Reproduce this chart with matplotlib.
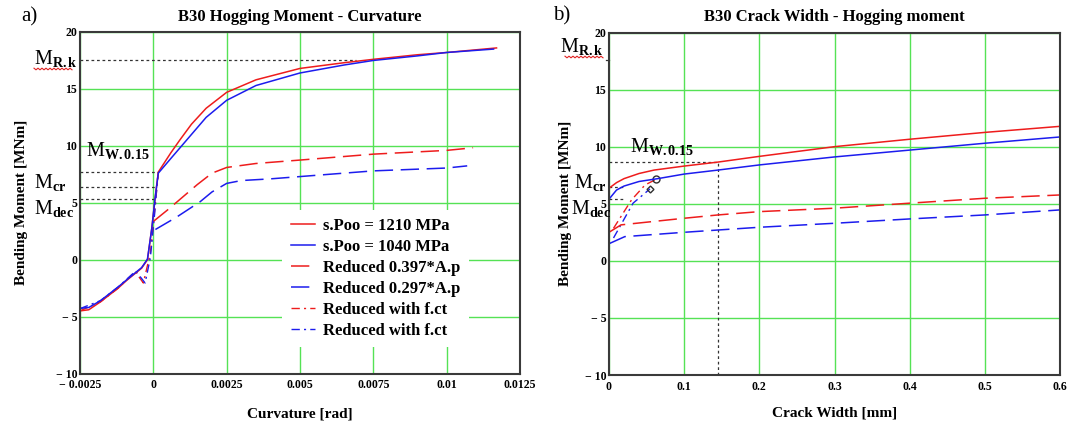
import numpy as np
import matplotlib
matplotlib.use("Agg")
import matplotlib.pyplot as plt
from matplotlib.lines import Line2D

plt.rcParams['font.family'] = 'Liberation Serif'
plt.rcParams['mathtext.fontset'] = 'custom'
plt.rcParams['mathtext.rm'] = 'Liberation Serif'
plt.rcParams['mathtext.it'] = 'Liberation Serif:italic'
plt.rcParams['mathtext.bf'] = 'Liberation Serif:bold'

# ---- a) hogging moment vs curvature ----
curv_full_1210 = [-0.0025, -0.0022, -0.0018, -0.0012, -0.0009, -0.0004, -0.0002, -0.00005, 0.00006, 0.00017,
                  0.0006, 0.0009, 0.0013, 0.0018, 0.0025, 0.0035, 0.005, 0.0065, 0.0075, 0.009, 0.01, 0.0117]
mom_full_1210 = [-4.5, -4.4, -3.7, -2.5, -1.8, -0.75, 0.0, 2.8, 5.4, 7.7,
                 9.4, 10.5, 11.9, 13.3, 14.7, 15.8, 16.8, 17.3, 17.6, 18.0, 18.2, 18.6]

curv_full_1040 = [-0.0025, -0.0024, -0.0022, -0.0018, -0.0012, -0.0009, -0.0004, -0.0002, -0.00005, 0.00006, 0.00017,
                  0.0006, 0.0011, 0.0018, 0.0025, 0.0035, 0.005, 0.0065, 0.0075, 0.009, 0.01, 0.0116]
mom_full_1040 = [-4.3, -4.25, -4.2, -3.6, -2.4, -1.75, -0.7, 0.05, 2.8, 5.4, 7.6,
                 8.9, 10.4, 12.5, 14.0, 15.3, 16.4, 17.1, 17.5, 17.9, 18.2, 18.5]

curv_red_0397 = [0.00002, 0.0005, 0.001, 0.0015, 0.002, 0.0025, 0.0035, 0.005, 0.0075, 0.01, 0.0109]
mom_red_0397 = [3.4, 4.4, 5.5, 6.6, 7.6, 8.1, 8.45, 8.75, 9.27, 9.6, 9.83]

curv_red_0297 = [0.00007, 0.0008, 0.0016, 0.002, 0.0025, 0.003, 0.004, 0.005, 0.0075, 0.01, 0.0107]
mom_red_0297 = [2.65, 3.75, 5.1, 5.95, 6.7, 6.95, 7.1, 7.3, 7.8, 8.05, 8.24]

curv_fct_a = [-0.0025, -0.0018, -0.0012, -0.00062, -0.00034, -0.0001, 0.00005, 0.00017]
mom_fct_a = [-4.5, -3.7, -2.5, -1.05, -2.05, 0.6, 4.5, 7.6]
curv_fct_b = [-0.0025, -0.0018, -0.0012, -0.0006, -0.00028, -0.0001, 0.00005, 0.00015]
mom_fct_b = [-4.3, -3.6, -2.4, -1.0, -2.05, 0.2, 4.2, 7.3]

M_Rk_a = 17.5
M_w015_a = 7.72
M_cr_a = 6.4
M_dec_a = 5.32

# ---- b) crack width vs hogging moment ----
w_full_1210 = [0.0, 0.01, 0.02, 0.04, 0.06, 0.1, 0.145, 0.2, 0.3, 0.4, 0.5, 0.6]
mw_full_1210 = [6.36, 6.85, 7.2, 7.65, 7.95, 8.3, 8.65, 9.15, 10.0, 10.65, 11.25, 11.78]
w_full_1040 = [0.0, 0.01, 0.02, 0.04, 0.065, 0.1, 0.145, 0.2, 0.3, 0.4, 0.5, 0.6]
mw_full_1040 = [5.4, 6.2, 6.55, 6.95, 7.2, 7.6, 7.95, 8.4, 9.1, 9.7, 10.3, 10.85]
w_red_0397 = [0.0, 0.016, 0.1, 0.145, 0.2, 0.3, 0.4, 0.5, 0.6]
mw_red_0397 = [2.5, 3.15, 3.73, 4.02, 4.31, 4.61, 5.05, 5.48, 5.77]
w_red_0297 = [0.0, 0.021, 0.1, 0.145, 0.2, 0.3, 0.4, 0.5, 0.6]
mw_red_0297 = [1.5, 2.12, 2.5, 2.7, 2.94, 3.29, 3.67, 4.02, 4.46]
w_fct_a = [0.006, 0.03, 0.048, 0.063]
mw_fct_a = [2.85, 5.34, 6.65, 7.15]
w_fct_b = [0.006, 0.032, 0.0545]
mw_fct_b = [2.0, 5.05, 6.3]

w_limit = 0.1454
M_w015_b = 8.64
M_cr_b = 6.45
M_dec_b = 5.4
M_Rk_b = 17.6

labels = ['s.Poo = 1210 MPa', 's.Poo = 1040 MPa', 'Reduced 0.397*A.p',
          'Reduced 0.297*A.p', 'Reduced with f.ct', 'Reduced with f.ct']
xticks_a = [-0.0025, 0, 0.0025, 0.005, 0.0075, 0.01, 0.0125]
xlabels_a = ['\u2212 0.0025', '0', '0.0025', '0.005', '0.0075', '0.01', '0.0125']
xticks_b = [0, 0.1, 0.2, 0.3, 0.4, 0.5, 0.6]
xlabels_b = ['0', '0.1', '0.2', '0.3', '0.4', '0.5', '0.6']
yticks = [-10, -5, 0, 5, 10, 15, 20]
ylabels = ['\u2212 10', '\u2212 5', '0', '5', '10', '15', '20']

RED = '#ee1c1c'
BLUE = '#1c1cee'
GREEN = '#55e255'
DASH = (0, (12, 5))
DASHDOT = (0, (6, 3, 1.5, 3))
DOT = (0, (2.2, 2.2))

W, H = 1071, 425
fig = plt.figure(figsize=(W / 100, H / 100), dpi=100)
ax1 = fig.add_axes([80 / W, 1 - 373.5 / H, 440 / W, 341.5 / H])
ax2 = fig.add_axes([609 / W, 1 - 375 / H, 451 / W, 342.5 / H])


def style_axes(ax, xt, xl, xlim, ypad):
    ax.set_xlim(*xlim)
    ax.set_ylim(-10, 20)
    ax.set_xticks(xt)
    ax.set_xticklabels(xl)
    ax.set_yticks(yticks)
    ax.set_yticklabels(ylabels)
    ax.tick_params(length=0, labelsize=8.5, pad=4)
    ax.tick_params(axis='y', pad=2)
    for t in ax.get_xticklabels() + ax.get_yticklabels():
        t.set_fontweight('bold')
    ax.grid(True, color=GREEN, lw=1.0)
    ax.set_axisbelow(True)
    for s in ax.spines.values():
        s.set_color('#3a3a3a')
        s.set_linewidth(1.5)
    ax.set_ylabel('Bending Moment [MNm]', fontsize=11, fontweight='bold', labelpad=ypad)


style_axes(ax1, xticks_a, xlabels_a, (-0.0025, 0.0125), 20)
style_axes(ax2, xticks_b, xlabels_b, (0, 0.6), 9)

# dotted reference levels
ax1.plot([-0.0025, 0.0069], [M_Rk_a, M_Rk_a], color='#333333', lw=0.9, ls=DOT)
ax1.plot([-0.0025, 0.00017], [M_w015_a, M_w015_a], color='#333333', lw=0.9, ls=DOT)
ax1.plot([-0.0025, 0.00006], [M_cr_a, M_cr_a], color='#333333', lw=0.9, ls=DOT)
ax1.plot([-0.0025, 0.00002], [M_dec_a, M_dec_a], color='#333333', lw=0.9, ls=DOT)

ax1.plot(curv_fct_a, mom_fct_a, color=RED, lw=1.0, ls=DASHDOT, label=labels[4])
ax1.plot(curv_fct_b, mom_fct_b, color=BLUE, lw=1.0, ls=DASHDOT, label=labels[5])
h1, = ax1.plot(curv_full_1210, mom_full_1210, color=RED, lw=1.1, label=labels[0])
h2, = ax1.plot(curv_full_1040, mom_full_1040, color=BLUE, lw=1.1, label=labels[1])
h3, = ax1.plot(curv_red_0397, mom_red_0397, color=RED, lw=1.1, ls=DASH, label=labels[2])
h4, = ax1.plot(curv_red_0297, mom_red_0297, color=BLUE, lw=1.1, ls=DASH, label=labels[3])
h5 = Line2D([], [], color=RED, lw=1.0, ls=DASHDOT)
h6 = Line2D([], [], color=BLUE, lw=1.0, ls=DASHDOT)

leg = ax1.legend([h1, h2, h3, h4, h5, h6], labels, loc='upper left',
                 bbox_to_anchor=(0.46, 0.48), borderaxespad=0, borderpad=0.5,
                 handlelength=1.45, handletextpad=0.5, labelspacing=0.3,
                 frameon=True, fancybox=False, framealpha=1,
                 prop={'family': 'Liberation Serif', 'weight': 'bold', 'size': 12})
leg.get_frame().set_edgecolor('none')

ax2.plot([0, w_limit], [M_w015_b, M_w015_b], color='#333333', lw=0.9, ls=DOT)
ax2.plot([w_limit, w_limit], [-10, M_w015_b], color='#333333', lw=0.9, ls=DOT)
ax2.plot([0, 0.02], [M_cr_b, M_cr_b], color='#333333', lw=0.9, ls=DOT)
ax2.plot([0, 0.02], [M_dec_b, M_dec_b], color='#333333', lw=0.9, ls=DOT)
ax2.plot([-0.004, 0.0], [M_Rk_b, M_Rk_b], color='#333333', lw=0.9, clip_on=False)

ax2.plot(w_fct_a, mw_fct_a, color=RED, lw=1.0, ls=DASHDOT)
ax2.plot(w_fct_b, mw_fct_b, color=BLUE, lw=1.0, ls=DASHDOT)
ax2.plot(w_fct_a[-1:], mw_fct_a[-1:], 'o', mfc='none', mec='#303030', ms=5, mew=1.0)
ax2.plot(w_fct_b[-1:], mw_fct_b[-1:], 'D', mfc='none', mec='#303030', ms=3.5, mew=1.0)
ax2.plot(w_full_1210, mw_full_1210, color=RED, lw=1.1)
ax2.plot(w_full_1040, mw_full_1040, color=BLUE, lw=1.1)
ax2.plot(w_red_0397, mw_red_0397, color=RED, lw=1.1, ls=DASH)
ax2.plot(w_red_0297, mw_red_0297, color=BLUE, lw=1.1, ls=DASH)

ax1.set_title('B30 Hogging Moment - Curvature', fontsize=12, fontweight='bold', pad=8)
ax2.set_title('B30 Crack Width - Hogging moment', fontsize=12, fontweight='bold', pad=8)
ax1.set_xlabel('Curvature [rad]', fontsize=11, fontweight='bold', labelpad=12)
ax2.set_xlabel('Crack Width [mm]', fontsize=11, fontweight='bold', labelpad=10)


def ftext(x, y, s, **kw):
    return fig.text(x / W, 1 - y / H, s, **kw)


ftext(21, 17, 'a)', fontsize=15, va='center', ha='left')
ftext(553, 16, 'b)', fontsize=15, va='center', ha='left')

mk = dict(fontsize=14.5, va='baseline')
ftext(34, 64, r'M$_{\mathbf{R.k}}$', ha='left', **mk)
ftext(86, 156, r'M$_{\mathbf{W.0.15}}$', ha='left', **mk)
ftext(34, 188, r'M$_{\mathbf{cr}}$', ha='left', **mk)
ftext(34, 214, r'M$_{\mathbf{dec}}$', ha='left', **mk)
ftext(604, 52, r'M$_{\mathbf{R.k}}$', ha='right', **mk)
ftext(630, 152, r'M$_{\mathbf{W.0.15}}$', ha='left', **mk)
ftext(606, 188, r'M$_{\mathbf{cr}}$', ha='right', **mk)
ftext(611, 214, r'M$_{\mathbf{dec}}$', ha='right', **mk)

# spell-check squiggles under the R.k labels
for x0, x1, yy in [(34, 72, 69), (565, 603, 57)]:
    xs = np.arange(x0, x1 + 1, 2.0)
    ys = yy + np.where(np.arange(len(xs)) % 2 == 0, -0.8, 0.8)
    fig.add_artist(Line2D(xs / W, 1 - ys / H, color='#e02020', lw=0.8))

fig.savefig('out.png', dpi=100)
